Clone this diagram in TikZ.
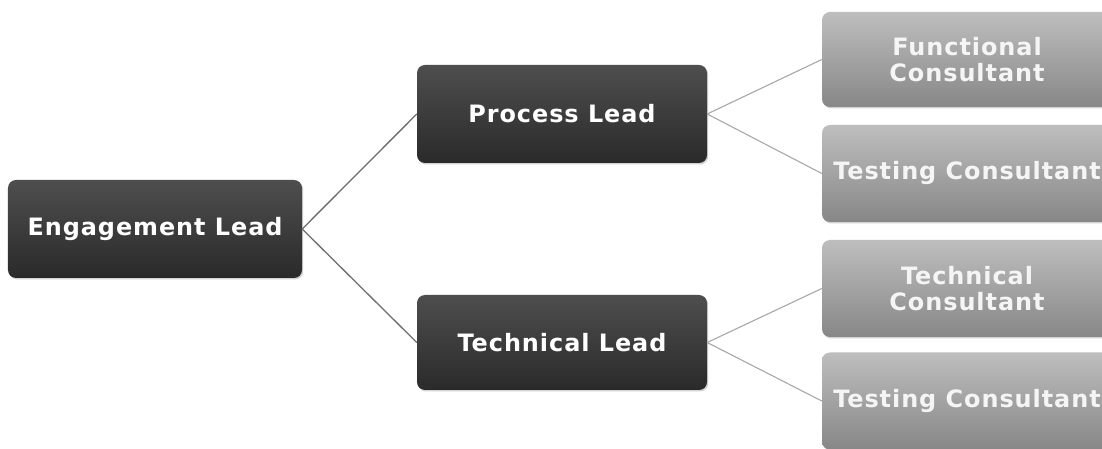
\documentclass[tikz,border=0pt]{standalone}
\usepackage{fontspec}
\newfontfamily\boxfont[LetterSpace=4]{DejaVu Sans}
\usetikzlibrary{shadows}

\definecolor{leadtop}{HTML}{4E4E4E}
\definecolor{leadbot}{HTML}{2A2A2A}
\definecolor{stafftop}{HTML}{BEBEBE}
\definecolor{staffbot}{HTML}{878787}
\definecolor{linkdark}{HTML}{6E6E6E}
\definecolor{linklight}{HTML}{A8A8A8}

\tikzset{
  box/.style={rounded corners=8bp, minimum width=290bp, minimum height=97bp,
    inner sep=0pt, align=center,
    font=\boxfont\bfseries\fontsize{24}{26}\selectfont,
    drop shadow={shadow xshift=1.2bp, shadow yshift=-1.5bp, opacity=0.35}},
  leadbox/.style={box, top color=leadtop, bottom color=leadbot, text=white},
  staffbox/.style={box, top color=stafftop, bottom color=staffbot, text=white!96!black},
  darklink/.style={draw=linkdark, line width=1.3bp},
  lightlink/.style={draw=linklight, line width=1.1bp}
}

\begin{document}
\begin{tikzpicture}[x=1bp, y=-1bp]
  \clip (0,0) rectangle (1102,449);
  \fill[white] (0,0) rectangle (1102,449);

  % top level
  \node[leadbox, minimum width=294bp, minimum height=98bp] (eng) at (155,229) {Engagement Lead};

  % second level
  \node[leadbox, minimum height=98bp] (proc) at (562,114) {Process Lead};
  \node[leadbox, minimum height=95bp] (tech) at (562,342.5) {Technical Lead};

  % third level
  \node[staffbox, minimum height=95bp] (func) at (967,59.5) {Functional\\Consultant};
  \node[staffbox] (test1) at (967,173.5) {Testing Consultant};
  \node[staffbox] (techc) at (967,288.5) {Technical\\Consultant};
  \node[staffbox] (test2) at (967,401) {Testing Consultant};

  % connectors
  \draw[darklink] (eng.east) -- (proc.west);
  \draw[darklink] (eng.east) -- (tech.west);
  \draw[lightlink] (proc.east) -- (func.west);
  \draw[lightlink] (proc.east) -- (test1.west);
  \draw[lightlink] (tech.east) -- (techc.west);
  \draw[lightlink] (tech.east) -- (test2.west);
\end{tikzpicture}
\end{document}
